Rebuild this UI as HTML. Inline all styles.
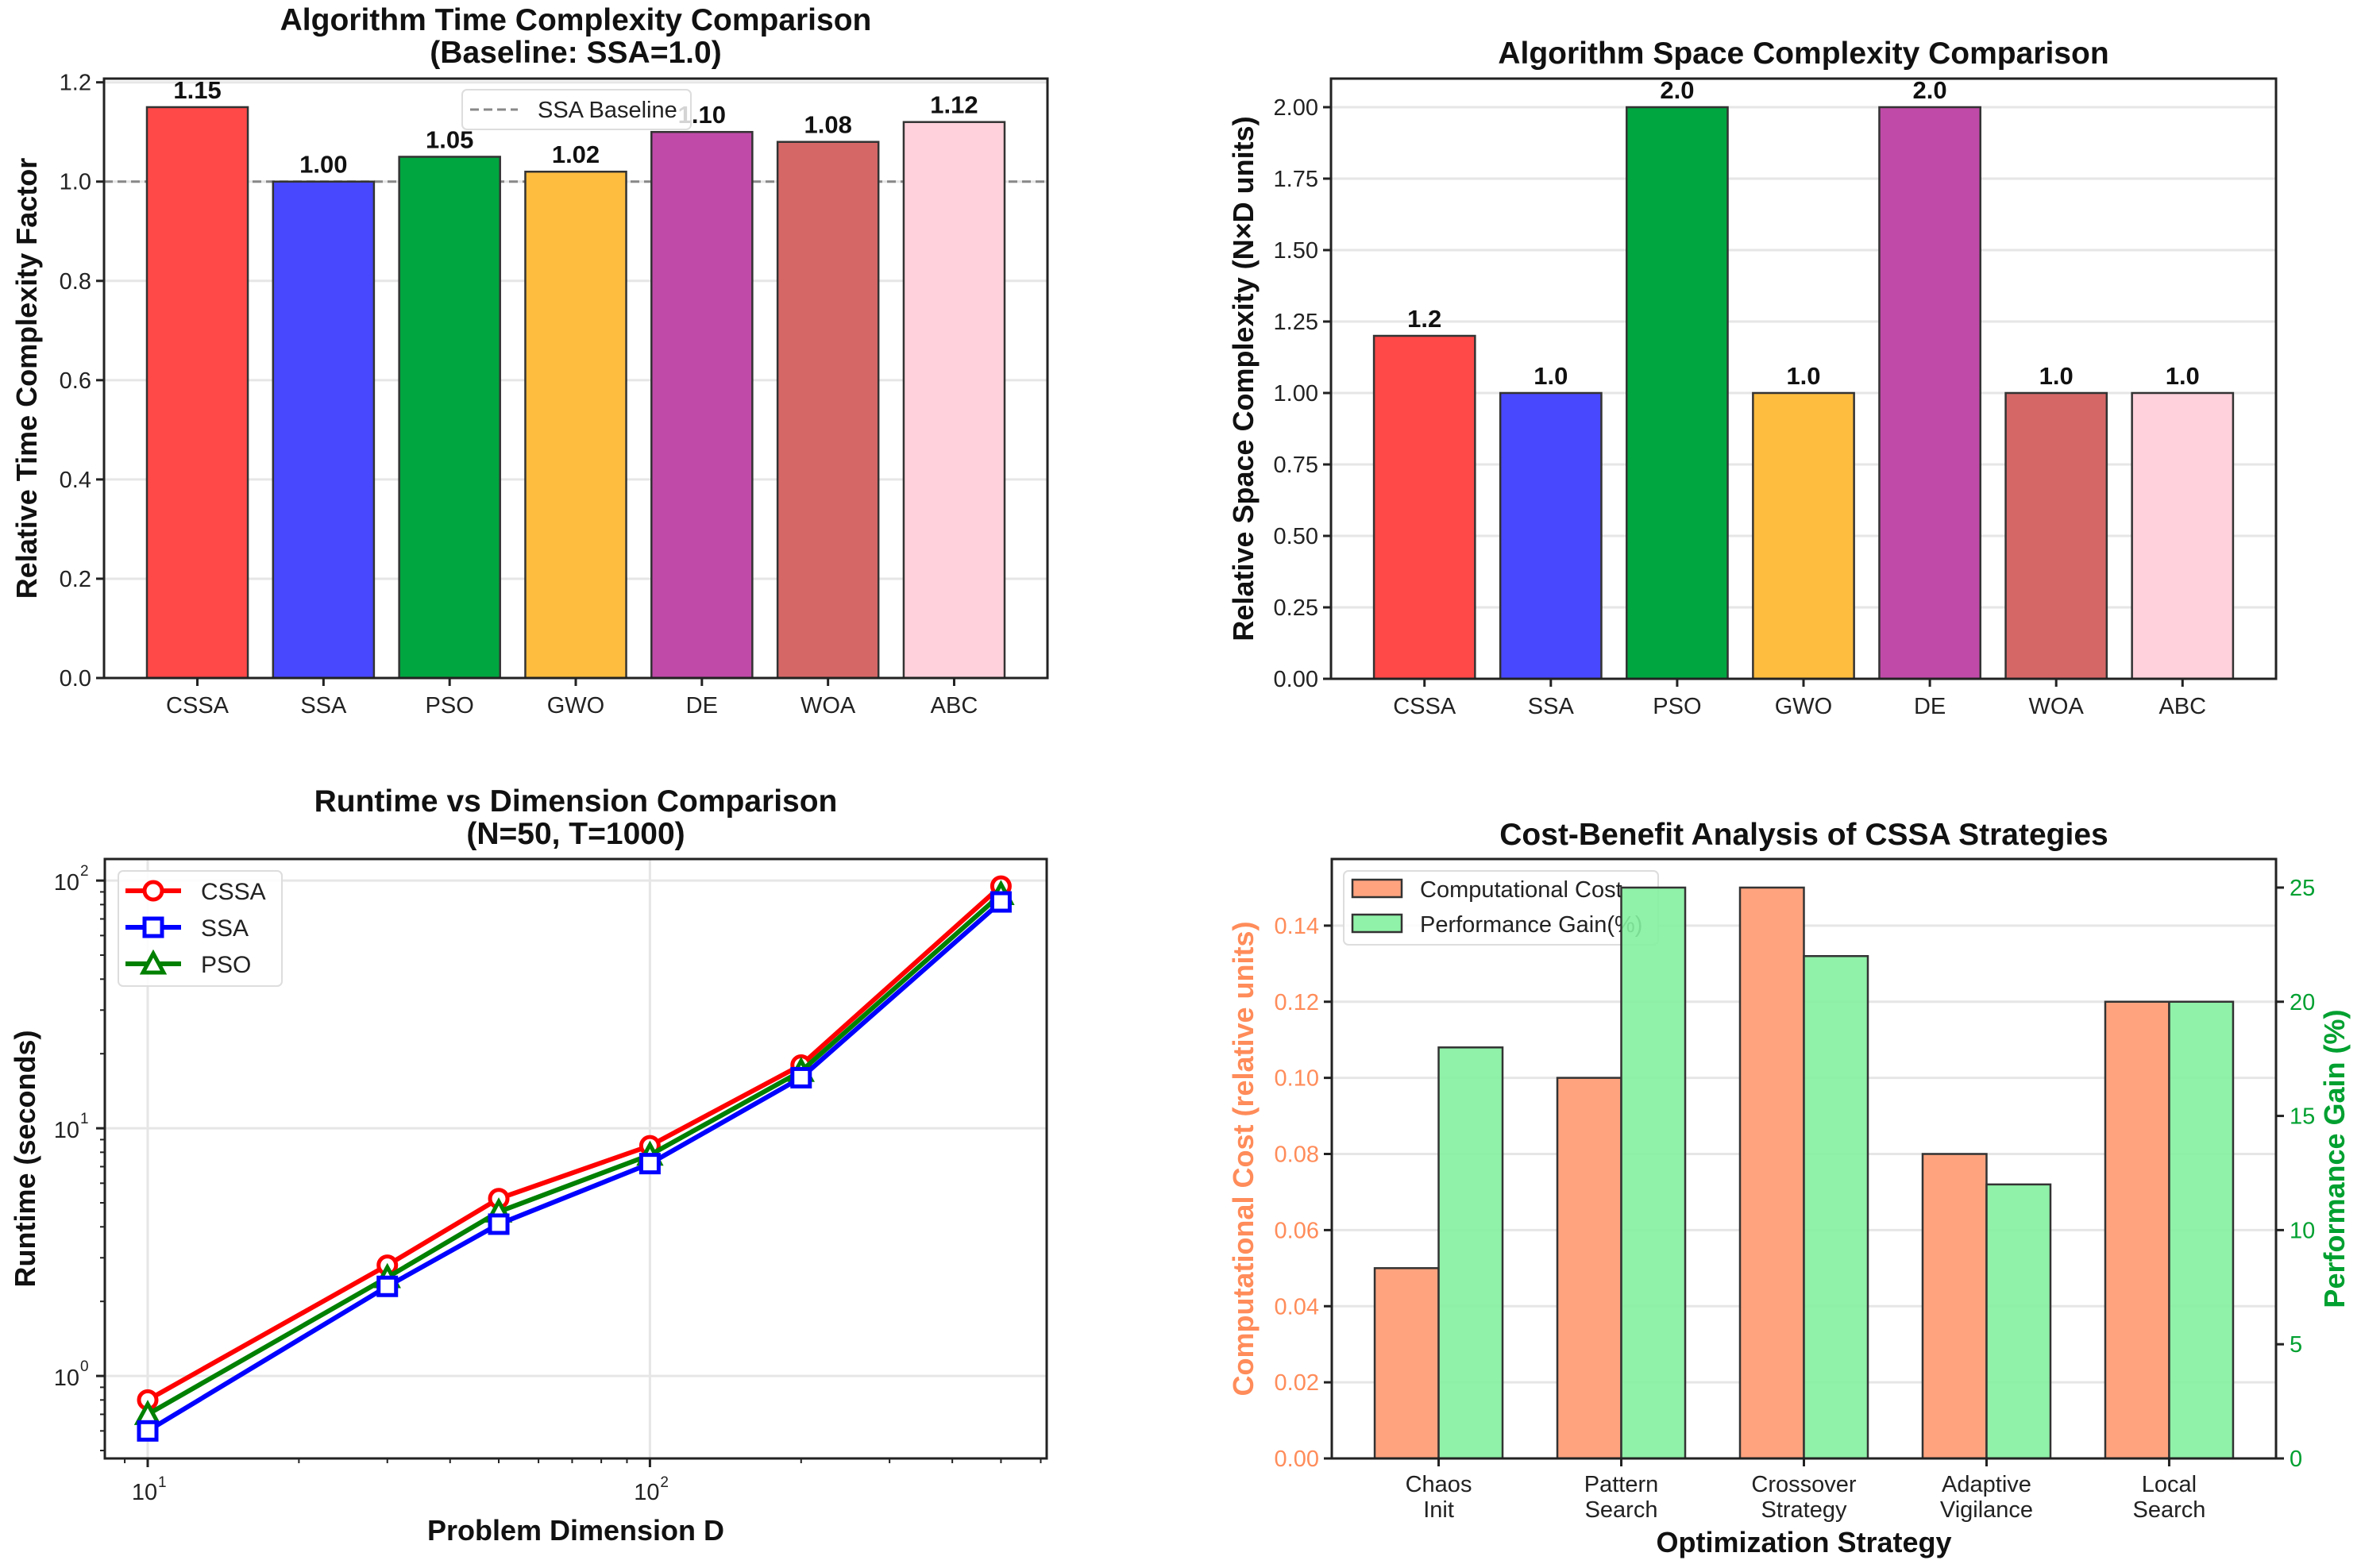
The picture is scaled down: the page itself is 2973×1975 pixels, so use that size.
<!DOCTYPE html>
<html><head><meta charset="utf-8">
<style>
html,body{margin:0;padding:0;background:#fff;}
svg{display:block;font-family:"Liberation Sans",Arial,sans-serif;}
</style></head>
<body>
<svg id="fig" width="2973" height="1975" viewBox="0 0 2973 1975" xmlns="http://www.w3.org/2000/svg"></svg>
<script>
// ---- Data ----
const algos = ["CSSA","SSA","PSO","GWO","DE","WOA","ABC"];
const timeValues = [1.15,1.00,1.05,1.02,1.10,1.08,1.12];
const timeLabels = ["1.15","1.00","1.05","1.02","1.10","1.08","1.12"];
const spaceValues = [1.2,1.0,2.0,1.0,2.0,1.0,1.0];
const spaceLabels = ["1.2","1.0","2.0","1.0","2.0","1.0","1.0"];
const algoColors = ["#ff4848","#4848ff","#00a640","#ffbd3f","#bf4aa8","#d66767","#ffd1dc"];
const timeTicks = [0,0.2,0.4,0.6,0.8,1.0,1.2];
const timeTickLabels = ["0.0","0.2","0.4","0.6","0.8","1.0","1.2"];
const spaceTicks = [0,0.25,0.5,0.75,1.0,1.25,1.5,1.75,2.0];
const spaceTickLabels = ["0.00","0.25","0.50","0.75","1.00","1.25","1.50","1.75","2.00"];
const dims = [10,30,50,100,200,500];
const runtimeCSSA = [0.8,2.8,5.2,8.5,18,95];
const runtimeSSA = [0.6,2.3,4.1,7.2,16,82];
const runtimePSO = [0.7,2.5,4.6,7.8,17,88];
const strategies = [["Chaos","Init"],["Pattern","Search"],["Crossover","Strategy"],["Adaptive","Vigilance"],["Local","Search"]];
const costValues = [0.05,0.10,0.15,0.08,0.12];
const gainValues = [18,25,22,12,20];
const costTicks = [0,0.02,0.04,0.06,0.08,0.10,0.12,0.14];
const costTickLabels = ["0.00","0.02","0.04","0.06","0.08","0.10","0.12","0.14"];
const gainTicks = [0,5,10,15,20,25];
const gainTickLabels = ["0","5","10","15","20","25"];

const NS="http://www.w3.org/2000/svg";
const svg=document.getElementById('fig');
function mk(tag,attrs,parent,text){const e=document.createElementNS(NS,tag);for(const k in attrs)e.setAttribute(k,attrs[k]);if(text!==undefined)e.textContent=text;(parent||svg).appendChild(e);return e;}
function lin(d0,d1,r0,r1){return v=>r0+(v-d0)/(d1-d0)*(r1-r0);}

function frame(g,L,R,T,B){
  const f=mk('rect',{x:L,y:T,width:R-L,height:B-T,fill:'none',stroke:'#222','stroke-width':3},g);
  
  
}
function title(g,lines,cx,y0){
  lines.forEach((t,i)=>{const e=mk('text',{x:cx,y:y0+i*41,'text-anchor':'middle','font-size':39,'font-weight':'bold',fill:'#111'},g,t);
  
  });
}
function ylabel(g,t,x,cy,color){
  const e=mk('text',{x:x,y:cy,'text-anchor':'middle','font-size':36,'font-weight':'bold',fill:color||'#111',transform:`rotate(-90 ${x} ${cy})`},g,t);
  
  
}
function yTicks(g,ticks,labels,ys,L,R,color,grid){
  ticks.forEach((v,i)=>{const y=ys(v);
    if(grid){const gl=mk('line',{x1:L,x2:R,y1:y,y2:y,stroke:'#e6e6e6','stroke-width':3},g);
      
      }
    mk('line',{x1:L-10,x2:L,y1:y,y2:y,stroke:'#222','stroke-width':3},g);
    const t=mk('text',{x:L-16,y:y+10,'text-anchor':'end','font-size':29,fill:color||'#222'},g,labels[i]);
    
    
  });
}

// ---- Panel 1 & 2: bar charts ----
function barPanel(opts){
  const g=mk('g',{});
  
  
  const {L,R,T,B}=opts;
  const xs=lin(-0.74,algos.length-1+0.74,L,R);
  const ys=lin(0,opts.ymax,B,T);
  yTicks(g,opts.ticks,opts.tickLabels,ys,L,R,'#222',true);
  if(opts.baseline){const bl=mk('line',{x1:L,x2:R,y1:ys(1),y2:ys(1),stroke:'#888','stroke-width':3,'stroke-dasharray':'11,6'},g);
    
    }
  const bw=xs(0.4)-xs(0);
  opts.values.forEach((v,i)=>{
    const cx=xs(i);
    const r=mk('rect',{x:cx-bw,y:ys(v),width:2*bw,height:ys(0)-ys(v),fill:algoColors[i],stroke:'#333','stroke-width':2.5},g);
    
    
    const t=mk('text',{x:cx,y:ys(v)-11,'text-anchor':'middle','font-size':31,'font-weight':'bold',fill:'#111'},g,opts.labels[i]);
    
    
    mk('line',{x1:cx,x2:cx,y1:B,y2:B+10,stroke:'#222','stroke-width':3},g);
    const xl=mk('text',{x:cx,y:B+44,'text-anchor':'middle','font-size':29,fill:'#222'},g,algos[i]);
    
    
  });
  frame(g,L,R,T,B);
  title(g,opts.title,(L+R)/2,opts.titleY);
  ylabel(g,opts.ylabel,opts.ylx,(T+B)/2);
  return {g,xs,ys};
}
barPanel({name:'time-complexity-chart',L:131,R:1319,T:99,B:854,ymax:1.2075,ticks:timeTicks,tickLabels:timeTickLabels,values:timeValues,labels:timeLabels,baseline:true,title:['Algorithm Time Complexity Comparison','(Baseline: SSA=1.0)'],titleY:38,ylabel:'Relative Time Complexity Factor',ylx:46});
// legend panel 1
(function(){const g=mk('g',{});
  
  
  mk('rect',{x:582,y:113,width:288,height:50,rx:6,fill:'#fff','fill-opacity':0.82,stroke:'#ddd','stroke-width':2},g);
  mk('line',{x1:592,x2:652,y1:138,y2:138,stroke:'#888','stroke-width':3,'stroke-dasharray':'11,6'},g);
  const t=mk('text',{x:677,y:148,'font-size':29,fill:'#222'},g,'SSA Baseline');
  
  
})();
barPanel({name:'space-complexity-chart',L:1676,R:2866,T:99,B:855,ymax:2.1,ticks:spaceTicks,tickLabels:spaceTickLabels,values:spaceValues,labels:spaceLabels,baseline:false,title:['Algorithm Space Complexity Comparison'],titleY:80,ylabel:'Relative Space Complexity (N×D units)',ylx:1578});

function drawMarker(g,m,x,y,c){
  if(m==='o')mk('circle',{cx:x,cy:y,r:11,fill:'#fff',stroke:c,'stroke-width':5},g);
  else if(m==='s')mk('rect',{x:x-11,y:y-11,width:22,height:22,fill:'#fff',stroke:c,'stroke-width':5},g);
  else mk('polygon',{points:`${x},${y-13} ${x-13},${y+11} ${x+13},${y+11}`,fill:'#fff',stroke:c,'stroke-width':5},g);
}

// ---- Panel 3: log-log runtime ----
(function(){
  const g=mk('g',{});
  
  
  const L=132,R=1318,T=1082,B=1837;
  const xs=v=>lin(0.9146,2.79,L,R)(Math.log10(v));
  const ys=v=>lin(-0.333,2.087,B,T)(Math.log10(v));
  [10,100].forEach(v=>{const gl=mk('line',{x1:xs(v),x2:xs(v),y1:T,y2:B,stroke:'#e6e6e6','stroke-width':3},g);
    
    });
  [1,10,100].forEach(v=>{const gl=mk('line',{x1:L,x2:R,y1:ys(v),y2:ys(v),stroke:'#e6e6e6','stroke-width':3},g);
    
    });
  const xMinor=[9,20,30,40,50,60,70,80,90,200,300,400,500,600];
  xMinor.forEach(v=>{if(xs(v)>L&&xs(v)<R)mk('line',{x1:xs(v),x2:xs(v),y1:B,y2:B+6,stroke:'#222','stroke-width':2},g);});
  [[10,'1'],[100,'2']].forEach(([v,e])=>{const x=xs(v);
    mk('line',{x1:x,x2:x,y1:B,y2:B+11,stroke:'#222','stroke-width':3},g);
    const t=mk('text',{x:x-4,y:B+52,'text-anchor':'middle','font-size':29,fill:'#222'},g,'10');
    
    
    mk('text',{x:x+13,y:B+36,'font-size':19,fill:'#222'},g,e);});
  const yMinor=[0.5,0.6,0.7,0.8,0.9,2,3,4,5,6,7,8,9,20,30,40,50,60,70,80,90];
  yMinor.forEach(v=>{mk('line',{x1:L-6,x2:L,y1:ys(v),y2:ys(v),stroke:'#222','stroke-width':2},g);});
  [[1,'0'],[10,'1'],[100,'2']].forEach(([v,e])=>{const y=ys(v);
    mk('line',{x1:L-11,x2:L,y1:y,y2:y,stroke:'#222','stroke-width':3},g);
    const t=mk('text',{x:L-32,y:y+12,'text-anchor':'end','font-size':29,fill:'#222'},g,'10');
    
    
    mk('text',{x:L-31,y:y-6,'font-size':19,fill:'#222'},g,e);});
  function series(vals,color,marker,name){
    const sg=mk('g',{},g);
    
    
    mk('polyline',{points:vals.map((v,i)=>xs(dims[i])+','+ys(v)).join(' '),fill:'none',stroke:color,'stroke-width':6,'stroke-linejoin':'round'},sg);
    vals.forEach((v,i)=>{drawMarker(sg,marker,xs(dims[i]),ys(v),color);});
  }
  series(runtimeCSSA,'#ff0000','o','cssa');
  series(runtimePSO,'#008000','^','pso');
  series(runtimeSSA,'#0000ff','s','ssa');
  frame(g,L,R,T,B);
  title(g,['Runtime vs Dimension Comparison','(N=50, T=1000)'],(L+R)/2,1022);
  ylabel(g,'Runtime (seconds)',44,(T+B)/2);
  const xl=mk('text',{x:(L+R)/2,y:1940,'text-anchor':'middle','font-size':36,'font-weight':'bold',fill:'#111'},g,'Problem Dimension D');
  
  
  const lg=mk('g',{},g);
  
  
  mk('rect',{x:149,y:1097,width:206,height:145,rx:6,fill:'#fff','fill-opacity':0.85,stroke:'#ddd','stroke-width':2},lg);
  [['CSSA','#ff0000','o'],['SSA','#0000ff','s'],['PSO','#008000','^']].forEach((d,i)=>{
    const y=1122+i*46;
    mk('line',{x1:158,x2:228,y1:y,y2:y,stroke:d[1],'stroke-width':6},lg);
    drawMarker(lg,d[2],193,y,d[1]);
    const t=mk('text',{x:253,y:y+11,'font-size':30,fill:'#222'},lg,d[0]);
    
    
  });
})();

// ---- Panel 4: cost-benefit ----
(function(){
  const g=mk('g',{});
  
  
  const L=1677,R=2866,T=1082,B=1837;
  const xs=lin(-0.585,strategies.length-1+0.585,L,R);
  const yc=lin(0,0.1575,B,T);
  const yg=lin(0,26.25,B,T);
  yTicks(g,costTicks,costTickLabels,yc,L,R,'#ff8c5a',true);
  const w=xs(0.35)-xs(0);
  strategies.forEach((s,i)=>{const cx=xs(i);
    const r=mk('rect',{x:cx-w,y:yc(costValues[i]),width:w,height:B-yc(costValues[i]),fill:'#ffa37e',stroke:'#333','stroke-width':2.5},g);
    
    
    mk('line',{x1:cx,x2:cx,y1:B,y2:B+10,stroke:'#222','stroke-width':3},g);
    s.forEach((ln,j)=>{const t=mk('text',{x:cx,y:B+42+j*32,'text-anchor':'middle','font-size':29,fill:'#222'},g,ln);
      
      });
  });
  const lg=mk('g',{},g);
  
  
  mk('rect',{x:1692,y:1097,width:396,height:93,rx:6,fill:'#fff','fill-opacity':0.85,stroke:'#ddd','stroke-width':2},lg);
  [['Computational Cost','#ffa37e'],['Performance Gain(%)','#90f2a8']].forEach((d,i)=>{const y=1108+i*44;
    mk('rect',{x:1703,y:y,width:62,height:22,fill:d[1],stroke:'#333','stroke-width':2.5},lg);
    const t=mk('text',{x:1788,y:y+22,'font-size':29,fill:'#222'},lg,d[0]);
    
    });
  strategies.forEach((s,i)=>{const cx=xs(i);
    const r=mk('rect',{x:cx,y:yg(gainValues[i]),width:w,height:B-yg(gainValues[i]),fill:'#84f09e','fill-opacity':0.9,stroke:'#333','stroke-width':2.5},g);
    
    });
  gainTicks.forEach((v,i)=>{const y=yg(v);
    mk('line',{x1:R,x2:R+10,y1:y,y2:y,stroke:'#222','stroke-width':3},g);
    const t=mk('text',{x:R+17,y:y+10,'font-size':29,fill:'#00a030'},g,gainTickLabels[i]);
    
    });
  frame(g,L,R,T,B);
  title(g,['Cost-Benefit Analysis of CSSA Strategies'],(L+R)/2,1064);
  ylabel(g,'Computational Cost (relative units)',1578,(T+B)/2,'#ff8c5a');
  const x2=2952,cy=(T+B)/2;
  const e=mk('text',{x:x2,y:cy,'text-anchor':'middle','font-size':36,'font-weight':'bold',fill:'#00a030',transform:`rotate(-90 ${x2} ${cy})`},g,'Performance Gain (%)');
  
  
  const xl=mk('text',{x:(L+R)/2,y:1955,'text-anchor':'middle','font-size':36,'font-weight':'bold',fill:'#111'},g,'Optimization Strategy');
  
  
})();
</script>
</body></html>
